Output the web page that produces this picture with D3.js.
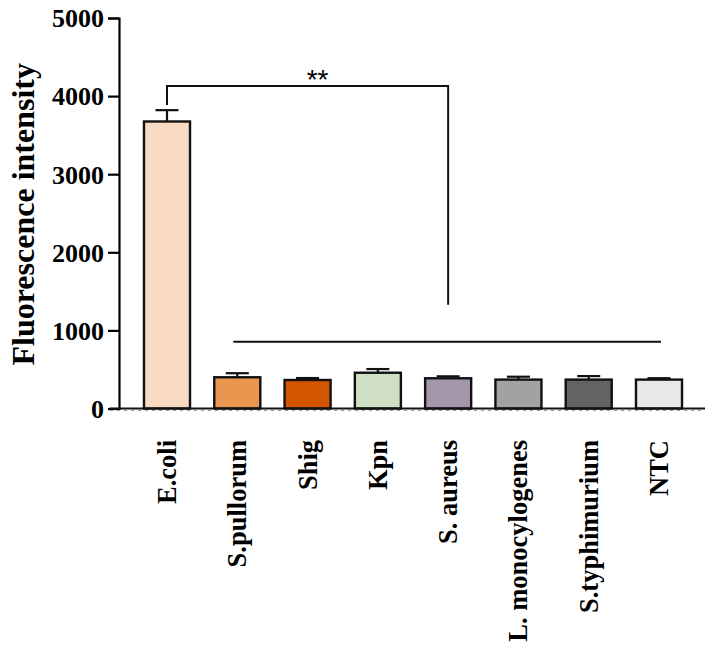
<!DOCTYPE html>
<html lang="en">
<head>
<meta charset="utf-8">
<title>Fluorescence intensity</title>
<script src="https://cdn.jsdelivr.net/npm/d3@7"></script>
<style>
  body { margin: 0; background: #fff; }
  text { font-family: "Liberation Serif", "Times New Roman", serif; font-weight: bold; fill: #000; }
</style>
</head>
<body>
<script>
// data
var categories = ["E.coli", "S.pullorum", "Shig", "Kpn", "S. aureus", "L. monocylogenes", "S.typhimurium", "NTC"];
var means = [3675, 400, 365, 458, 387, 370, 370, 370];
var errors = [145, 52, 25, 47, 25, 37, 45, 18];
var colors = ["#f8d9c1", "#e89650", "#d45500", "#cfdfc4", "#a497ab", "#a2a1a4", "#636363", "#e8e8e8"];
var yTicks = [0, 1000, 2000, 3000, 4000, 5000];
// bracket E.coli vs S. aureus, and the line across the other groups
var bracketTop = 4130, bracketLeftEnd = 3885, bracketRightEnd = 1330;
var groupLine = 855;

var w = 715, h = 654;

var svg = d3.select("body").append("svg")
  .attr("width", w)
  .attr("height", h);

var y = d3.scaleLinear().domain([0, 5000]).range([408.5, 18]);
var x = d3.scalePoint().domain(categories).range([167, 659]);
var barW = x.step() * 0.655;
var axisX = 119;

// y axis
var yAxis = d3.axisLeft(y).tickValues(yTicks).tickSize(11).tickPadding(4).tickFormat(d3.format("d"));
var gy = svg.append("g").attr("transform", "translate(" + axisX + ",0)").call(yAxis);
gy.select(".domain").attr("stroke", "#000").attr("stroke-width", 2.2);
gy.selectAll(".tick line").attr("stroke", "#000").attr("stroke-width", 2.2);
gy.selectAll(".tick text")
  .attr("font-family", "Liberation Serif, serif")
  .attr("font-weight", "bold")
  .attr("font-size", 26)
  .attr("fill", "#000")
  .attr("dy", "0.34em");

svg.append("text")
  .attr("transform", "translate(34," + (y(2500) + 1) + ") rotate(-90)")
  .attr("text-anchor", "middle")
  .attr("font-size", 32)
  .text("Fluorescence intensity");

// bars
var bars = svg.append("g");
bars.selectAll("rect")
  .data(categories)
  .enter().append("rect")
  .attr("x", function(d) { return x(d) - barW / 2; })
  .attr("y", function(d, i) { return y(means[i]); })
  .attr("width", barW)
  .attr("height", function(d, i) { return y(0) - y(means[i]); })
  .attr("fill", function(d, i) { return colors[i]; })
  .attr("stroke", "#111")
  .attr("stroke-width", 2.4);

// error bars (upper only)
var err = svg.append("g").attr("stroke", "#111").attr("stroke-width", 2.2);
err.selectAll("line.v")
  .data(categories)
  .enter().append("line")
  .attr("class", "v")
  .attr("x1", function(d) { return x(d); })
  .attr("x2", function(d) { return x(d); })
  .attr("y1", function(d, i) { return y(means[i]); })
  .attr("y2", function(d, i) { return y(means[i] + errors[i]); });
err.selectAll("line.c")
  .data(categories)
  .enter().append("line")
  .attr("class", "c")
  .attr("x1", function(d) { return x(d) - barW / 4; })
  .attr("x2", function(d) { return x(d) + barW / 4; })
  .attr("y1", function(d, i) { return y(means[i] + errors[i]); })
  .attr("y2", function(d, i) { return y(means[i] + errors[i]); });

// x axis baseline
svg.append("line")
  .attr("x1", axisX - 9).attr("x2", 705)
  .attr("y1", y(0)).attr("y2", y(0))
  .attr("stroke", "#111").attr("stroke-width", 2.2);
svg.append("line")
  .attr("x1", axisX - 9).attr("x2", 705)
  .attr("y1", y(0) + 2).attr("y2", y(0) + 2)
  .attr("stroke", "#999").attr("stroke-width", 1.2)
  .attr("stroke-dasharray", "3,4");

// x labels
svg.append("g").selectAll("text")
  .data(categories)
  .enter().append("text")
  .attr("transform", function(d) { return "translate(" + (x(d) + 9) + ",440) rotate(-90)"; })
  .attr("text-anchor", "end")
  .attr("font-size", 26.5)
  .text(function(d) { return d; });

// significance bracket
var sig = svg.append("g").attr("stroke", "#111").attr("stroke-width", 2).attr("fill", "none");
sig.append("path")
  .attr("d", d3.line()([
    [x("E.coli"), y(bracketLeftEnd)],
    [x("E.coli"), y(bracketTop)],
    [x("S. aureus"), y(bracketTop)],
    [x("S. aureus"), y(bracketRightEnd)]
  ]));
sig.append("line")
  .attr("x1", x("S.pullorum") - 4).attr("x2", x("NTC") + 2)
  .attr("y1", y(groupLine)).attr("y2", y(groupLine));

svg.append("text")
  .attr("x", (x("E.coli") + x("S. aureus")) / 2 + 10)
  .attr("y", y(bracketTop) + 3)
  .attr("text-anchor", "middle")
  .attr("font-size", 28)
  .style("font-family", "Liberation Sans, Arial, sans-serif")
  .style("font-weight", "normal")
  .text("**");
</script>
</body>
</html>
